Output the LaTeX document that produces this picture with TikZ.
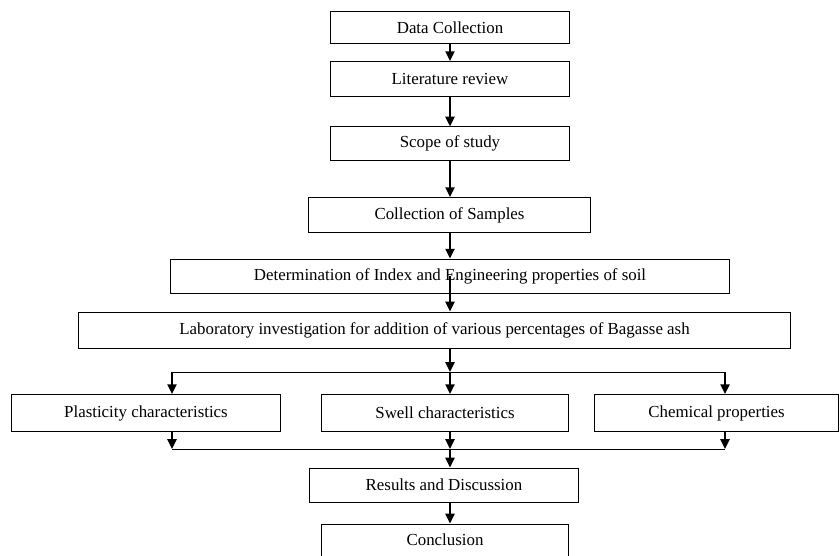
\documentclass[tikz,border=0pt]{standalone}
\usepackage{fontspec}
\setmainfont{Liberation Serif}
\usepackage{tikz}
\usetikzlibrary{positioning}
\usetikzlibrary{arrows.meta}
\usetikzlibrary{calc}

\tikzset{
  stagebox/.style={draw, line width=0.7pt, inner sep=0pt, minimum height=0.85cm,
    font=\fontsize{12}{14}\selectfont},
  flowarrow/.style={line width=1.4pt, -{Triangle[width=6.5pt,length=7pt]}},
  branchline/.style={line width=0.7pt}
}

\begin{document}
\begin{tikzpicture}[x=0.025cm,y=-0.025cm]
\useasboundingbox (0,0) rectangle (840,556);

% main chain
\node[stagebox, minimum width=5.95cm, minimum height=0.78cm] (data) at (450,27.5) {Data Collection};
\node[stagebox, minimum width=5.95cm, minimum height=0.87cm] (lit) at (450,79) {Literature review};
\node[stagebox, minimum width=5.95cm, minimum height=0.83cm] (scope) at (450,143.5) {Scope of study};
\node[stagebox, minimum width=7.03cm, minimum height=0.87cm] (samples) at (449.5,215) {Collection of Samples};
\node[stagebox, minimum width=13.95cm, minimum height=0.87cm] (index) at (450,276.5) {Determination of Index and Engineering properties of soil};
\node[stagebox, minimum width=17.78cm, minimum height=0.9cm] (lab) at (434.5,330) {Laboratory investigation for addition of various percentages of Bagasse ash};

% three tests
\node[stagebox, minimum width=6.7cm, minimum height=0.92cm] (plast) at (146,413) {Plasticity characteristics};
\node[stagebox, minimum width=6.18cm, minimum height=0.92cm] (swell) at (445,413) {Swell characteristics};
\node[stagebox, minimum width=6.08cm, minimum height=0.92cm] (chem) at (716.5,413) {Chemical properties};

% end
\node[stagebox, minimum width=6.73cm, minimum height=0.85cm] (results) at (444,485) {Results and Discussion};
\node[stagebox, minimum width=6.18cm, minimum height=0.8cm] (concl) at (445,540) {Conclusion};

% branch points
\coordinate (l1) at (172,372);
\coordinate (m1) at (450,372);
\coordinate (r1) at (725,372);
\coordinate (l2) at (172,449);
\coordinate (m2) at (450,449);
\coordinate (r2) at (725,449);

\draw[flowarrow] (data.south -| m1) -- (lit.north -| m1);
\draw[flowarrow] (lit.south -| m1) -- (scope.north -| m1);
\draw[flowarrow] (scope.south -| m1) -- (samples.north -| m1);
\draw[flowarrow] (samples.south -| m1) -- (index.north -| m1);
\draw[flowarrow] (index.center -| m1) -- (lab.north -| m1);

\draw[flowarrow] (lab.south -| m1) -- (m1);
\draw[branchline] (l1) -- (r1);
\draw[flowarrow] (l1) -- (plast.north -| l1);
\draw[flowarrow] (m1) -- (swell.north -| m1);
\draw[flowarrow] (r1) -- (chem.north -| r1);

\draw[flowarrow] (plast.south -| l2) -- (l2);
\draw[flowarrow] (swell.south -| m2) -- (m2);
\draw[flowarrow] (chem.south -| r2) -- (r2);
\draw[branchline] (l2) -- (r2);
\draw[flowarrow] (m2) -- (results.north -| m2);
\draw[flowarrow] (results.south -| m2) -- (concl.north -| m2);
\end{tikzpicture}
\end{document}
